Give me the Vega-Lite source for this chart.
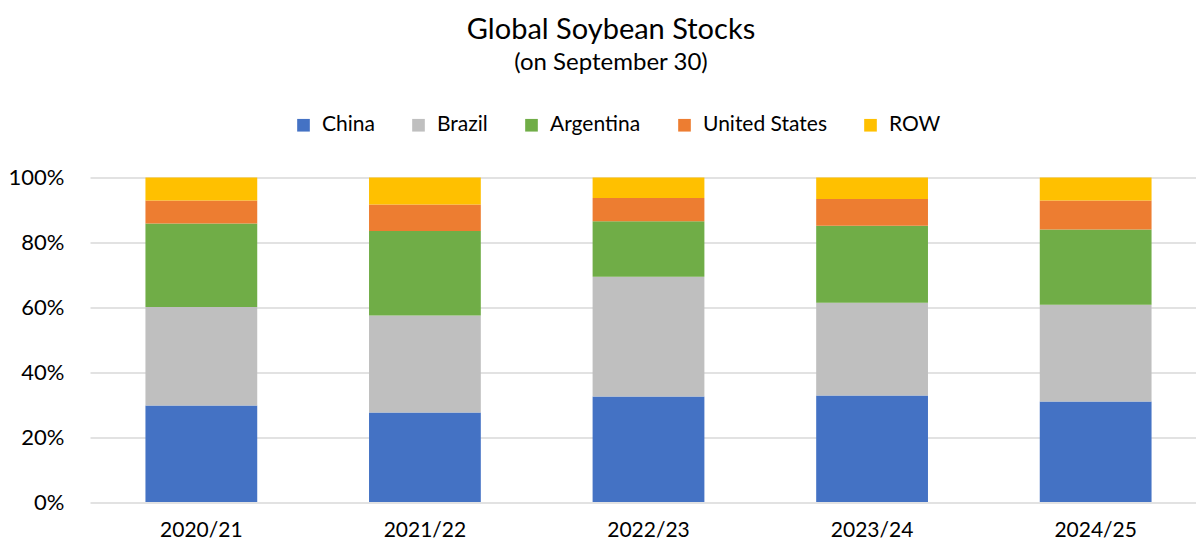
{
  "$schema": "https://vega.github.io/schema/vega-lite/v6.json",
  "autosize": {"type": "none"},
  "padding": {"left": 90, "top": 177.5, "right": 0, "bottom": 42},
  "width": 1106,
  "height": 324.5,
  "background": "white",
  "title": {
    "text": "Global Soybean Stocks",
    "subtitle": "(on September 30)",
    "anchor": "middle",
    "frame": "group",
    "dx": -32,
    "offset": 40,
    "font": "Lato",
    "fontSize": 29,
    "fontWeight": "normal",
    "color": "#000000",
    "subtitleFont": "Lato",
    "subtitleFontSize": 24,
    "subtitleColor": "#000000",
    "subtitlePadding": 6
  },
  "data": {
    "values": [
      {"year": "2020/21", "country": "China", "share": 29.7, "k": 1},
      {"year": "2020/21", "country": "Brazil", "share": 30.4, "k": 2},
      {"year": "2020/21", "country": "Argentina", "share": 25.7, "k": 3},
      {"year": "2020/21", "country": "United States", "share": 7.1, "k": 4},
      {"year": "2020/21", "country": "ROW", "share": 7.1, "k": 5},
      {"year": "2021/22", "country": "China", "share": 27.6, "k": 1},
      {"year": "2021/22", "country": "Brazil", "share": 29.9, "k": 2},
      {"year": "2021/22", "country": "Argentina", "share": 26.0, "k": 3},
      {"year": "2021/22", "country": "United States", "share": 8.2, "k": 4},
      {"year": "2021/22", "country": "ROW", "share": 8.3, "k": 5},
      {"year": "2022/23", "country": "China", "share": 32.5, "k": 1},
      {"year": "2022/23", "country": "Brazil", "share": 36.9, "k": 2},
      {"year": "2022/23", "country": "Argentina", "share": 17.1, "k": 3},
      {"year": "2022/23", "country": "United States", "share": 7.2, "k": 4},
      {"year": "2022/23", "country": "ROW", "share": 6.3, "k": 5},
      {"year": "2023/24", "country": "China", "share": 32.8, "k": 1},
      {"year": "2023/24", "country": "Brazil", "share": 28.6, "k": 2},
      {"year": "2023/24", "country": "Argentina", "share": 23.7, "k": 3},
      {"year": "2023/24", "country": "United States", "share": 8.3, "k": 4},
      {"year": "2023/24", "country": "ROW", "share": 6.6, "k": 5},
      {"year": "2024/25", "country": "China", "share": 31.0, "k": 1},
      {"year": "2024/25", "country": "Brazil", "share": 29.8, "k": 2},
      {"year": "2024/25", "country": "Argentina", "share": 23.2, "k": 3},
      {"year": "2024/25", "country": "United States", "share": 8.9, "k": 4},
      {"year": "2024/25", "country": "ROW", "share": 7.1, "k": 5}
    ]
  },
  "mark": {"type": "bar"},
  "encoding": {
    "x": {
      "field": "year",
      "type": "nominal",
      "scale": {"range": [0, 1117], "paddingInner": 0.5, "paddingOuter": 0.248},
      "axis": {
        "title": null,
        "labelAngle": 0,
        "domain": false,
        "ticks": false,
        "labelFont": "Lato",
        "labelFontSize": 21,
        "labelColor": "#000000",
        "labelPadding": 17
      }
    },
    "y": {
      "field": "share",
      "type": "quantitative",
      "stack": "normalize",
      "scale": {"domain": [0, 1]},
      "axis": {
        "title": null,
        "format": ".0%",
        "values": [0, 0.2, 0.4, 0.6, 0.8, 1],
        "domain": false,
        "ticks": false,
        "grid": true,
        "gridColor": "#D9D9D9",
        "gridWidth": 1.5,
        "labelFont": "Lato",
        "labelFontSize": 22,
        "labelColor": "#000000",
        "labelPadding": 26
      }
    },
    "color": {
      "field": "country",
      "type": "nominal",
      "sort": ["China", "Brazil", "Argentina", "United States", "ROW"],
      "scale": {
        "domain": ["China", "Brazil", "Argentina", "United States", "ROW"],
        "range": ["#4472C4", "#BFBFBF", "#70AD47", "#ED7D31", "#FFC000"]
      },
      "legend": {
        "title": null,
        "orient": "none",
        "direction": "horizontal",
        "legendX": 203,
        "legendY": -63,
        "symbolType": "square",
        "symbolSize": 160,
        "symbolStrokeWidth": 0,
        "symbolOpacity": 1,
        "labelFont": "Lato",
        "labelFontSize": 21,
        "labelColor": "#000000",
        "labelOffset": 8,
        "columnPadding": 33
      }
    },
    "order": {"field": "k", "type": "quantitative", "sort": "ascending"}
  },
  "config": {
    "view": {"stroke": null}
  }
}
